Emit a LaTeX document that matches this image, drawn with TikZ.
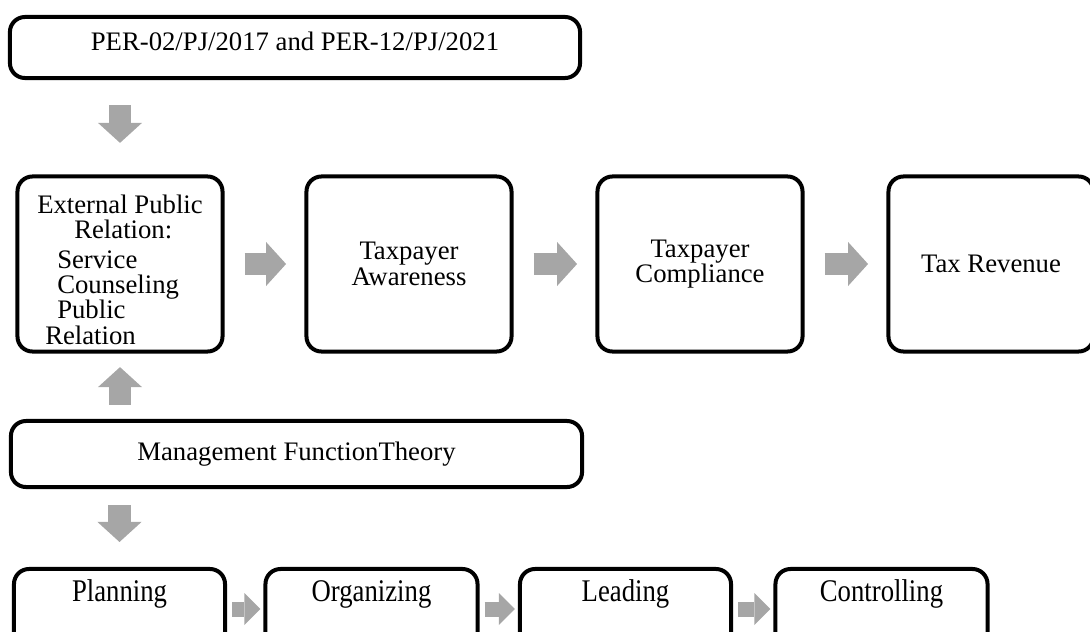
\documentclass[tikz,border=0pt]{standalone}
\usepackage{fontspec}
\usepackage{graphicx}
\setmainfont{Liberation Serif}
\usetikzlibrary{arrows.meta}
\definecolor{arrowgray}{RGB}{166,166,166}
\newcommand{\tallword}[1]{\scalebox{1}[1.18]{#1}}
\begin{document}
\begin{tikzpicture}[x=0.025cm,y=-0.025cm,
  box/.style={draw,line width=0.1cm,rounded corners=0.375cm,align=center,
    font=\fontsize{19pt}{18pt}\selectfont},
  bigbox/.style={box,minimum width=5.125cm,minimum height=4.375cm},
  widebox/.style={box,minimum width=14.25cm,inner ysep=0pt},
  lowbox/.style={box,minimum width=5.3cm,inner ysep=0pt,text height=0.8cm,text depth=1.2cm},
  fatarrow/.style={arrowgray,line width=0.55cm,
    -{Triangle[width=1.1cm,length=0.5cm,line width=0pt 0]}},
  thinarrow/.style={arrowgray,line width=0.375cm,
    -{Triangle[width=0.8cm,length=0.4cm,line width=0pt 0]},
    shorten <=0.125cm,shorten >=0.075cm}]
\useasboundingbox (0,0) rectangle (1090,631);
% the boxes
\node[widebox,text height=0.825cm,text depth=0.7cm] (per) at (295,47.5) {PER-02/PJ/2017 and PER-12/PJ/2021};
\node[bigbox,align=left] (ext) at (120,264) {\rule{0pt}{0.75cm}External Public\\
  \hspace*{0.925cm}Relation:\\[0.1cm] \hspace*{0.5cm}Service\\ \hspace*{0.5cm}Counseling\\
  \hspace*{0.5cm}Public\\ \hspace*{0.2cm}Relation};
\node[bigbox] (aware) at (409,264) {Taxpayer\\Awareness};
\node[bigbox] (compl) at (700,264) {Taxpayer\\Compliance};
\node[bigbox] (rev) at (991,264) {Tax Revenue};
\node[widebox,minimum width=14.275cm,minimum height=1.65cm] (mgmt) at (296.5,454) {Management FunctionTheory};
\node[lowbox,minimum width=5.275cm] (plan) at (119.5,609) {\tallword{Planning}};
\node[lowbox] (org) at (371.5,609) {\tallword{Organizing}};
\node[lowbox,minimum width=5.275cm] (lead) at (625.5,609) {\tallword{Leading}};
\node[lowbox] (ctrl) at (881.5,609) {\tallword{Controlling}};
% the arrows
\draw[fatarrow,shorten <=0.625cm,shorten >=0.79cm] (per.south -| ext) -- (ext.north);
\draw[fatarrow,shorten <=0.5cm,shorten >=0.46cm] (ext) -- (aware);
\draw[fatarrow,shorten <=0.5cm,shorten >=0.46cm] (aware) -- (compl);
\draw[fatarrow,shorten <=0.5cm,shorten >=0.46cm] (compl) -- (rev);
\draw[fatarrow,shorten <=0.35cm,shorten >=0.34cm] (mgmt.north -| ext) -- (ext.south);
\draw[fatarrow,shorten <=0.4cm,shorten >=0.625cm] (mgmt.south -| plan) -- (plan.north);
\draw[thinarrow] (plan) -- (org);
\draw[thinarrow] (org) -- (lead);
\draw[thinarrow] (lead) -- (ctrl);
\end{tikzpicture}
\end{document}
